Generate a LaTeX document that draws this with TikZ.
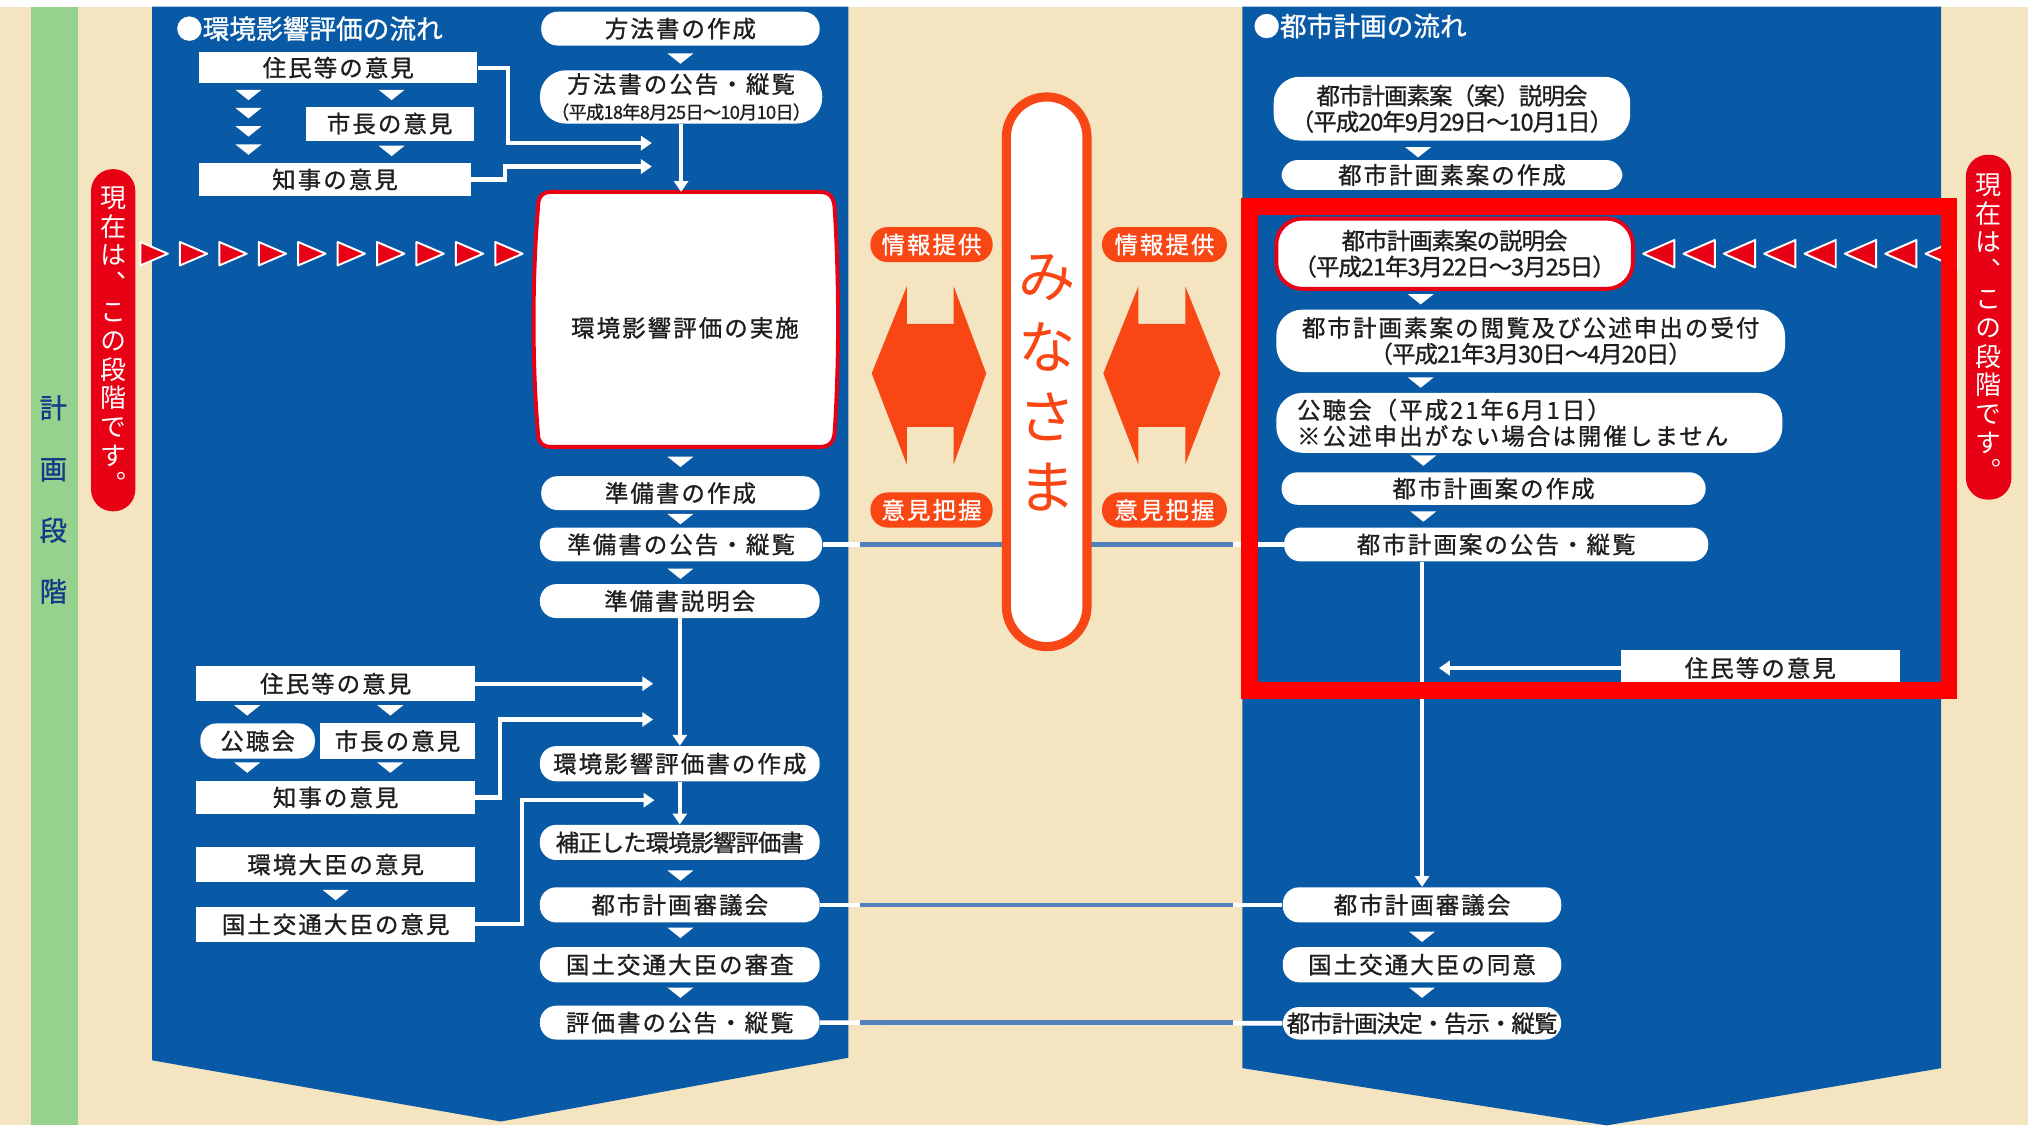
\documentclass[tikz,border=0pt]{standalone}
\usepackage{fontspec}
\setmainfont{Noto Sans CJK JP}
\newfontfamily\jpA[LetterSpace=9,FakeBold=1]{Noto Sans CJK JP}
\newfontfamily\jpB[LetterSpace=-4,FakeBold=1]{Noto Sans CJK JP}
\newfontfamily\jpT[FakeBold=1]{Noto Sans CJK JP}
\newfontfamily\jpV[RawFeature=+vert]{Noto Sans CJK JP}
\usetikzlibrary{arrows.meta}

\definecolor{bgbeige}{RGB}{244,228,192}
\definecolor{stripgreen}{RGB}{150,210,142}
\definecolor{panelblue}{RGB}{9,90,166}
\definecolor{nowred}{RGB}{232,0,20}
\definecolor{markred}{RGB}{255,0,0}
\definecolor{minaorange}{RGB}{248,70,20}
\definecolor{linkblue}{RGB}{82,128,188}
\definecolor{inkblack}{RGB}{30,30,30}
\definecolor{stagenavy}{RGB}{22,58,135}

\newcommand{\fsbox}{\fontsize{10.8pt}{12pt}\selectfont}
\newcommand{\fsdate}{\fontsize{8.4pt}{9pt}\selectfont}
\newcommand{\fstitle}{\fontsize{12.3pt}{14pt}\selectfont}

\tikzset{
  sz/.style 2 args={minimum width=#1*0.6pt, minimum height=#2*0.6pt},
  wbox/.style={fill=white, inner sep=0pt, text=inkblack, font=\jpA\fsbox},
  pill/.style={wbox, rounded corners=7.5pt},
  pill2/.style={wbox, rounded corners=12pt, align=center},
  warrow/.style={white, line width=1.9pt, -{Triangle[width=6.5pt,length=5pt]}},
  wline/.style={white, line width=2.1pt},
  bline/.style={linkblue, line width=2.1pt},
  orangetag/.style={fill=minaorange, rounded corners=8pt, inner sep=0pt, text=white, font=\jpA\fsbox},
  nowtag/.style={fill=nowred, rounded corners=10pt, inner sep=0pt, text=white, align=center,
    font=\jpV\fontsize{12pt}{13.2pt}\selectfont},
  redtri/.style={fill=nowred, draw=white, line width=0.9pt, line join=round},
  paneltitle/.style={anchor=west, inner sep=0pt, text=white, font=\jpT\fstitle},
}

\begin{document}
\begin{tikzpicture}[x=0.6pt, y=-0.6pt]
\useasboundingbox (0,0) rectangle (1568,865);

%%%%%%%%%%%%%%%%%%%%%%%%%%%%%%%%%%%%%%%%%%%%%%%%%%%%%%%%%%%%%% background
\fill[white] (0,0) rectangle (1568,865);
\fill[bgbeige] (0,5) rectangle (1559,865);
\fill[stripgreen] (24,5) rectangle (60,865);
\node[align=center, inner sep=0pt, text=stagenavy, font=\jpT\fontsize{12.6pt}{28.2pt}\selectfont] (keikaku) at (41,384) {計\\画\\段\\階};

\fill[panelblue] (117,5) -- (652,5) -- (652,813) -- (385,862) -- (117,815) -- cycle;
\fill[panelblue] (955,5) -- (1492,5) -- (1492,821) -- (1235,865) -- (955,821) -- cycle;

%%%%%%%%%%%%%%%%%%%%%%%%%%%%%%%%%%%%%%%%%%%%%%%%%%%%%%%%%%%%%% left panel
\node[paneltitle] (titleL) at (135,22) {●環境影響評価の流れ};

\node[pill, sz={214}{26}] (hoho1) at (523,22) {方法書の作成};
\node[pill2, sz={217}{41}] (hoho2) at (523.5,74.5) {方法書の公告・縦覧\\{\jpB\fsdate （平成18年8月25日～10月10日）}};

\node[wbox, sz={214}{24}] (jum1) at (260,52) {住民等の意見};
\node[wbox, sz={129}{26}] (shicho1) at (299.5,95) {市長の意見};
\node[wbox, sz={209}{26}] (chiji1) at (257.5,138) {知事の意見};

\draw[nowred, line width=1.8pt, fill=white] (424,147.5) -- (630,147.5)
  .. controls (638,147.5) and (641,152) .. (641.5,160)
  .. controls (645,215) and (645,280) .. (641.5,332)
  .. controls (641,339) and (638,343.5) .. (630,343.5)
  -- (424,343.5) .. controls (416,343.5) and (413.5,339) .. (413.5,333)
  .. controls (409,280) and (409,215) .. (413.5,160)
  .. controls (413.5,152) and (416,147.5) .. (424,147.5) -- cycle;
\node[inner sep=0pt, text=inkblack, font=\jpA\fsbox] (jisshi) at (526.5,252) {環境影響評価の実施};
\coordinate (jisshitop) at (523.5,147.5);

\node[pill, sz={214}{26}] (junbi1) at (523,379) {準備書の作成};
\node[pill, sz={217}{26}] (junbi2) at (523.5,418.5) {準備書の公告・縦覧};
\node[pill, sz={215}{26}] (junbi3) at (522.5,462) {準備書説明会};

\node[wbox, sz={214}{27}] (jum2) at (258,525.5) {住民等の意見};
\node[pill, sz={88}{27}] (kocho1) at (198,569.5) {公聴会};
\node[wbox, sz={119}{27}] (shicho2) at (305.5,569.5) {市長の意見};
\node[wbox, sz={214}{26}] (chiji2) at (258,613) {知事の意見};
\node[wbox, sz={214}{27}] (daijin1) at (258,664.5) {環境大臣の意見};
\node[wbox, sz={214}{27}] (daijin2) at (258,710.5) {国土交通大臣の意見};

\node[pill, sz={215}{27}] (hyoka1) at (522.5,587) {環境影響評価書の作成};
\node[pill, sz={215}{27}, font=\jpB\fsbox] (hyoka2) at (522.5,647.5) {補正した環境影響評価書};
\node[pill, sz={215}{27}] (shingi1) at (522.5,695.5) {都市計画審議会};
\node[pill, sz={215}{27}] (shinsa) at (522.5,741.5) {国土交通大臣の審査};
\node[pill, sz={215}{26}] (kokoku1) at (522.5,786) {評価書の公告・縦覧};

\coordinate (inA) at (501,110);
\coordinate (inB) at (501,128);
\coordinate (inC) at (502,525.5);
\coordinate (inD) at (502,553);
\coordinate (inE) at (503,615);
\draw[warrow] (jum1.east) -- ++(23,0) |- (inA);
\draw[warrow] (chiji1.east) -- ++(26,0) |- (inB);
\draw[warrow] (hoho2.south) -- (jisshitop);
\draw[warrow] (jum2.east) -- (inC);
\draw[warrow] (chiji2.east) -- ++(19,0) |- (inD);
\draw[warrow] (daijin2.east) -- ++(36,0) |- (inE);
\draw[warrow] (junbi3.south) -- (hyoka1.north);
\draw[warrow] (hyoka1.south) -- (hyoka2.north);

%%%%%%%%%%%%%%%%%%%%%%%%%%%%%%%%%%%%%%%%%%%%%%%%%%%%%%%%%%%%%% right panel
\node[paneltitle] (titleR) at (963,20) {●都市計画の流れ};

\node[pill2, sz={274}{49}, font=\jpB\fsbox] (soan1) at (1116,83.5) {都市計画素案（案）説明会\\（平成20年9月29日～10月1日）};
\node[pill, sz={262}{23}] (soan2) at (1116,134.5) {都市計画素案の作成};
\node[pill2, sz={274}{54}, font=\jpB\fsbox, draw=nowred, line width=1.8pt] (setsumei) at (1118,195) {都市計画素案の説明会\\（平成21年3月22日～3月25日）};
\node[pill2, sz={391}{48}] (etsuran) at (1176.5,262) {都市計画素案の閲覧及び公述申出の受付\\{\jpB （平成21年3月30日～4月20日）}};
\node[pill2, sz={389}{46}, align=left, text width=357*0.6pt] (kocho2) at (1175.5,325) {公聴会（平成21年6月1日）\\※公述申出がない場合は開催しません};
\node[pill, sz={326}{25}] (anSaku) at (1148,375.5) {都市計画案の作成};
\node[pill, sz={326}{26}] (anKokoku) at (1150,418.5) {都市計画案の公告・縦覧};
\node[wbox, sz={214}{28}] (jum3) at (1353,513.5) {住民等の意見};

\node[pill, sz={214}{27}] (shingi2) at (1093,695.5) {都市計画審議会};
\node[pill, sz={214}{27}] (doi) at (1093,741.5) {国土交通大臣の同意};
\node[pill, sz={214}{25}, font=\jpB\fsbox] (kettei) at (1093,786.5) {都市計画決定・告示・縦覧};

\coordinate (inF) at (1106,513.5);
\draw[warrow] (anKokoku.south -| shingi2.north) -- (shingi2.north);
\draw[warrow] (jum3.west) -- (inF);

%%%%%%%%%%%%%%%%%%%%%%%%%%%%%%%%%%%%%%%%%%%%%%%%%%%%%%%%%%%%%% small triangles
\foreach \x/\y in {523/45, 191/73, 191/87, 191/101, 191/115, 301/73, 301/116,
    523/355, 523/399, 523/441, 190/546, 300/546, 190/590, 300/590, 258/688,
    523/673, 523/717, 523/763,
    1090/117, 1092/230, 1092/294, 1094/354, 1094/397, 1093/720, 1093/763}
  \fill[white] (\x-10,\y-4) -- (\x+10,\y-4) -- (\x,\y+4) -- cycle;

%%%%%%%%%%%%%%%%%%%%%%%%%%%%%%%%%%%%%%%%%%%%%%%%%%%%%%%%%%%%%% links across
\coordinate (gapL) at (661,0);
\coordinate (gapR) at (948,0);
\draw[wline] (junbi2.east) -- (anKokoku.west);
\draw[wline] (shingi1.east) -- (shingi2.west);
\draw[wline] (kokoku1.east) -- (kettei.west);
\draw[bline] (junbi2.east -| gapL) -- (junbi2.east -| gapR);
\draw[bline] (shingi1.east -| gapL) -- (shingi1.east -| gapR);
\draw[bline] (kokoku1.east -| gapL) -- (kokoku1.east -| gapR);

%%%%%%%%%%%%%%%%%%%%%%%%%%%%%%%%%%%%%%%%%%%%%%%%%%%%%%%%%%%%%% centre
\node[draw=minaorange, line width=4.2pt, fill=white, rounded corners=18.6pt, sz={62}{422.5}] (minapill) at (804.5,285.75) {};
\node[inner sep=0pt, align=center, text=minaorange, font=\fontsize{26.4pt}{32.4pt}\selectfont] (minatext) at (805,294.5) {み\\な\\さ\\ま};

\node[orangetag, sz={94}{27}] (jyohoL) at (716,188) {情報提供};
\node[orangetag, sz={96}{27}] (jyohoR) at (895,188) {情報提供};
\node[orangetag, sz={94}{27}] (ikenL) at (716,392) {意見把握};
\node[orangetag, sz={96}{27}] (ikenR) at (895,392) {意見把握};

\fill[minaorange] (670,287) -- (697,220) -- (697,249) -- (733,249) -- (733,220) -- (758,287)
  -- (733,357) -- (733,328) -- (697,328) -- (697,357) -- cycle;
\fill[minaorange] (848,287) -- (875,220) -- (875,249) -- (911,249) -- (911,220) -- (938,287)
  -- (911,357) -- (911,328) -- (875,328) -- (875,357) -- cycle;

%%%%%%%%%%%%%%%%%%%%%%%%%%%%%%%%%%%%%%%%%%%%%%%%%%%%%%%%%%%%%% current stage
\foreach \i in {0,...,9}
  \draw[redtri] (108+30.3*\i,186) -- (129+30.3*\i,195) -- (108+30.3*\i,204) -- cycle;
\foreach \i in {0,...,7}
  \draw[redtri] (1263+31*\i,195) -- (1287+31*\i,184.5) -- (1287+31*\i,205.5) -- cycle;

\node[nowtag, sz={34}{263}] (nowL) at (87,261.5) {現\\在\\は\\、\\こ\\の\\段\\階\\で\\す\\。};
\node[nowtag, sz={35}{265}] (nowR) at (1528.5,251.5) {現\\在\\は\\、\\こ\\の\\段\\階\\で\\す\\。};

\draw[markred, line width=7.8pt] (960.5,158.5) rectangle (1498,530.5);

\end{tikzpicture}
\end{document}
